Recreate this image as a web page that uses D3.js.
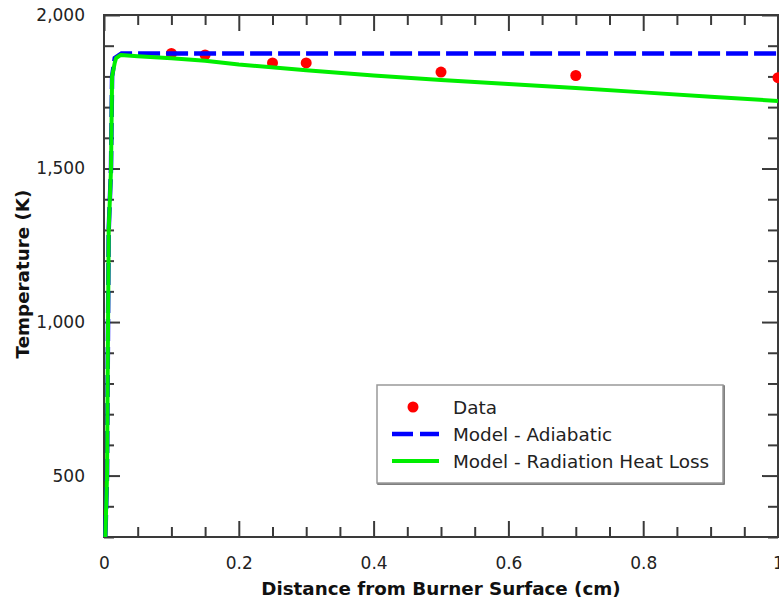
<!DOCTYPE html>
<html>
<head>
<meta charset="utf-8">
<script src="https://cdn.jsdelivr.net/npm/d3@7"></script>
<style>
  html, body { margin: 0; padding: 0; background: #fff; }
  svg { display: block; font-family: "DejaVu Sans", Verdana, sans-serif; }
  .tick text { fill: #222; font-size: 17px; font-family: "DejaVu Sans", Verdana, sans-serif; }
  .tick line { stroke: #3a3a3a; stroke-width: 2; }
</style>
</head>
<body>
<div id="app"></div>
<script>
// measured flame temperatures
const distance = [0.1, 0.15, 0.25, 0.3, 0.5, 0.7, 1.0];
const measured = [1875, 1870, 1844, 1844, 1814, 1803, 1796];

// adiabatic model
const adiaX = [0.002, 0.0045, 0.006, 0.007, 0.0104, 0.012, 0.016, 0.026, 1.0];
const adiaT = [300, 500, 1000, 1300, 1500, 1800, 1860, 1875, 1875];

// radiation heat loss model
const radX = [0.002, 0.0045, 0.006, 0.007, 0.0104, 0.012, 0.016, 0.018, 0.025, 0.05, 0.1, 0.15, 0.2, 0.3, 0.4, 0.5, 0.6, 0.7, 0.8, 0.9, 1.0];
const radT = [300, 500, 1000, 1300, 1500, 1800, 1845, 1860, 1870, 1866, 1859, 1851, 1839, 1820, 1803, 1788, 1775, 1762, 1748, 1734, 1720];

const xMajor = [0, 0.2, 0.4, 0.6, 0.8, 1];
const yMajor = [500, 1000, 1500, 2000];

const seriesNames = ["Data", "Model - Adiabatic", "Model - Radiation Heat Loss"];

const W = 779, H = 600,
      x0 = 104, x1 = 778, y0 = 537, y1 = 15;

const xScale = d3.scaleLinear().domain([0, 1]).range([x0, x1]),
      yScale = d3.scaleLinear().domain([300, 2000]).range([y0, y1]);

const svg = d3.select("#app")
.append("svg")
  .attr("width", W)
  .attr("height", H);

const xMinor = d3.range(0, 1.0001, 0.05).filter(v => Math.abs(v * 5 - Math.round(v * 5)) > 1e-6);
const yMinor = d3.range(300, 2001, 100).filter(v => v % 500 !== 0);

/* axes: major ticks with labels, minor ticks without */
svg.append("g")
  .attr("transform", `translate(0,${y0})`)
.call(d3.axisBottom(xScale).tickValues(xMajor).tickSize(-16).tickPadding(20)
  .tickFormat(d => d === 0 ? "0" : d3.format("")(+d.toFixed(1))));
svg.append("g")
  .attr("transform", `translate(0,${y0})`)
.call(d3.axisBottom(xScale).tickValues(xMinor).tickSize(-10).tickFormat(""));

svg.append("g")
  .attr("transform", `translate(0,${y1})`)
.call(d3.axisTop(xScale).tickValues(xMajor).tickSize(-16).tickFormat(""));
svg.append("g")
  .attr("transform", `translate(0,${y1})`)
.call(d3.axisTop(xScale).tickValues(xMinor).tickSize(-10).tickFormat(""));

svg.append("g")
  .attr("transform", `translate(${x0},0)`)
.call(d3.axisLeft(yScale).tickValues(yMajor).tickSize(-16).tickPadding(19).tickFormat(d3.format(",")));
svg.append("g")
  .attr("transform", `translate(${x0},0)`)
.call(d3.axisLeft(yScale).tickValues(yMinor).tickSize(-10).tickFormat(""));

svg.append("g")
  .attr("transform", `translate(${x1},0)`)
.call(d3.axisRight(yScale).tickValues(yMajor).tickSize(-16).tickFormat(""));
svg.append("g")
  .attr("transform", `translate(${x1},0)`)
.call(d3.axisRight(yScale).tickValues(yMinor).tickSize(-10).tickFormat(""));

svg.selectAll(".domain").remove();

/* frame */
svg.append("rect")
  .attr("x", x0).attr("y", y1)
  .attr("width", x1 - x0).attr("height", y0 - y1)
  .attr("fill", "none")
  .attr("stroke", "#3a3a3a")
  .attr("stroke-width", 2);

/* data points */
svg.selectAll(".dot")
  .data(distance)
.enter()
.append("circle")
  .attr("class", "dot")
  .attr("cx", d => xScale(d))
  .attr("cy", (d, i) => yScale(measured[i]))
  .attr("r", 5.5)
  .attr("fill", "#ff0000");

const line = d3.line()
.x(d => xScale(d[0]))
.y(d => yScale(d[1]))
.curve(d3.curveLinear);

svg.append("path")
.datum(d3.zip(adiaX, adiaT))
  .attr("d", line)
  .attr("fill", "none")
  .attr("stroke", "#0000ff")
  .attr("stroke-width", 4.5)
  .attr("stroke-dasharray", "22,6");

svg.append("path")
.datum(d3.zip(radX, radT))
  .attr("d", line)
  .attr("fill", "none")
  .attr("stroke", "#00ee00")
  .attr("stroke-width", 4)
  .attr("stroke-linejoin", "round");

/* axis titles */
svg.append("text")
  .attr("x", (x0 + x1) / 2)
  .attr("y", 595)
  .attr("text-anchor", "middle")
  .attr("font-weight", "bold")
  .attr("font-size", 18.3)
  .attr("fill", "#111")
  .text("Distance from Burner Surface (cm)");

svg.append("text")
  .attr("transform", "translate(29,274) rotate(-90)")
  .attr("text-anchor", "middle")
  .attr("font-weight", "bold")
  .attr("font-size", 18.3)
  .attr("fill", "#111")
  .text("Temperature (K)");

/* legend */
const lg = svg.append("g").attr("transform", "translate(377,385)");
lg.append("rect")
  .attr("x", 1).attr("y", 1).attr("width", 346).attr("height", 98)
  .attr("fill", "none").attr("stroke", "#555").attr("stroke-width", 1.5);
lg.append("rect")
  .attr("width", 346).attr("height", 98)
  .attr("fill", "#fff").attr("stroke", "#999").attr("stroke-width", 1.5);

const rowY = [22, 49, 76];
lg.append("circle").attr("cx", 36).attr("cy", rowY[0]).attr("r", 5.5).attr("fill", "#ff0000");
lg.append("line").attr("x1", 15).attr("x2", 62).attr("y1", rowY[1]).attr("y2", rowY[1])
  .attr("stroke", "#0000ff").attr("stroke-width", 4.5).attr("stroke-dasharray", "21,7");
lg.append("line").attr("x1", 15).attr("x2", 62).attr("y1", rowY[2]).attr("y2", rowY[2])
  .attr("stroke", "#00ee00").attr("stroke-width", 4);
lg.selectAll(".lt")
  .data(seriesNames)
.enter()
.append("text")
  .attr("class", "lt")
  .attr("x", 76)
  .attr("y", (d, i) => rowY[i])
  .attr("dy", "0.36em")
  .attr("font-size", 18.4)
  .attr("fill", "#222")
  .text(d => d);
</script>
</body>
</html>
